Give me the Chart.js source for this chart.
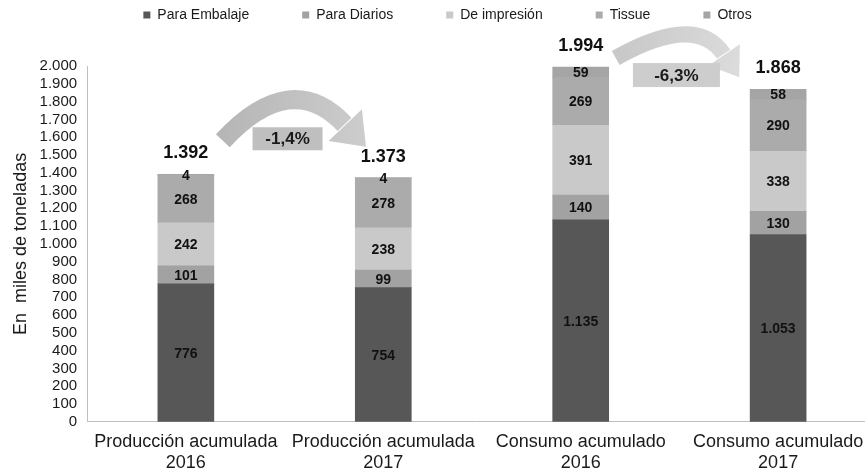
<!DOCTYPE html>
<html>
<head>
<meta charset="utf-8">
<script src="https://cdn.jsdelivr.net/npm/chart.js@4.4.0/dist/chart.umd.min.js"></script>
<style>
  html, body { margin: 0; padding: 0; background: #fff; }
</style>
</head>
<body>
<canvas id="chart" width="865" height="473"></canvas>
<script>
"use strict";

// data (miles de toneladas)
const categories = [
    ['Producción acumulada', '2016'],
    ['Producción acumulada', '2017'],
    ['Consumo acumulado', '2016'],
    ['Consumo acumulado', '2017']
];
const seriesNames = ['Para Embalaje', 'Para Diarios', 'De impresión', 'Tissue', 'Otros'];
const embalaje = [776, 754, 1135, 1053];
const diarios = [101, 99, 140, 130];
const impresion = [242, 238, 391, 338];
const tissue = [268, 278, 269, 290];
const otros = [4, 4, 59, 58];
const totals = [1392, 1373, 1994, 1868];
const yTicks = [0, 100, 200, 300, 400, 500, 600, 700, 800, 900, 1000,
    1100, 1200, 1300, 1400, 1500, 1600, 1700, 1800, 1900, 2000];

const values = [embalaje, diarios, impresion, tissue, otros];
const colors = ['#575757', '#a2a2a2', '#c9c9c9', '#ababab', '#a5a5a5'];
const FONT = '"Liberation Sans", Arial, sans-serif';

function fmt(v) {
    return String(v).replace(/\B(?=(\d{3})+(?!\d))/g, '.');
}

// decorations: curved arrows + change boxes between pairs of bars
const arrows = [
    { from: 0, to: 1, p0: [37, 1580], c: [105, 1990], p2: [-38, 1668], width: 19, head: 30, half: 23, c0: '#b6b6b6', c1: '#cdcdcd' },
    { from: 2, to: 3, p0: [35, 2045], c: [115, 2299], p2: [-54, 2062], width: 16, head: 27, half: 19, c0: '#c8c8c8', c1: '#dcdcdc' }
];
const changeBoxes = [
    { from: 0, to: 1, value: 1591, dx: 3, width: 70, height: 23, fill: '#bfbfbf' },
    { from: 2, to: 3, value: 1949, dx: -3, width: 87, height: 24, fill: '#cdcdcd' }
];

// legend: keep big gaps between items but push the plot down below it
const legendSpacer = {
    id: 'legendSpacer',
    beforeInit(chart) {
        const origFit = chart.legend.fit;
        chart.legend.fit = function fit() {
            origFit.bind(chart.legend)();
            this.height += 34;
        };
    },
    afterLayout(chart) {
        chart.legend.left += 12;
        chart.legend.right += 12;
    }
};

const decorations = {
    id: 'decorations',
    afterDatasetsDraw(chart) {
        const ctx = chart.ctx;
        const xs = chart.scales.x, ys = chart.scales.y;
        ctx.save();

        arrows.forEach(a => {
            const bx0 = xs.getPixelForValue(a.from), bx1 = xs.getPixelForValue(a.to);
            const p0 = [bx0 + a.p0[0], ys.getPixelForValue(a.p0[1])];
            const c = [bx0 + a.c[0], ys.getPixelForValue(a.c[1])];
            const p2 = [bx1 + a.p2[0], ys.getPixelForValue(a.p2[1])];
            let dx = p2[0] - c[0], dy = p2[1] - c[1];
            const len = Math.hypot(dx, dy);
            dx /= len; dy /= len;
            const tip = [p2[0] + dx * a.head, p2[1] + dy * a.head];
            const grad = ctx.createLinearGradient(p0[0], p0[1], tip[0], tip[1]);
            grad.addColorStop(0, a.c0);
            grad.addColorStop(1, a.c1);
            ctx.strokeStyle = grad;
            ctx.fillStyle = grad;
            ctx.lineWidth = a.width;
            ctx.lineCap = 'butt';
            ctx.beginPath();
            ctx.moveTo(p0[0], p0[1]);
            ctx.quadraticCurveTo(c[0], c[1], p2[0] - dx, p2[1] - dy);
            ctx.stroke();
            ctx.beginPath();
            ctx.moveTo(p2[0] - dy * a.half, p2[1] + dx * a.half);
            ctx.lineTo(tip[0], tip[1]);
            ctx.lineTo(p2[0] + dy * a.half, p2[1] - dx * a.half);
            ctx.closePath();
            ctx.fill();
        });

        ctx.textAlign = 'center';
        ctx.textBaseline = 'middle';
        changeBoxes.forEach(b => {
            const cx = (xs.getPixelForValue(b.from) + xs.getPixelForValue(b.to)) / 2 + b.dx;
            const cy = ys.getPixelForValue(b.value);
            ctx.fillStyle = b.fill;
            ctx.fillRect(cx - b.width / 2, cy - b.height / 2, b.width, b.height);
            const pct = ((totals[b.to] / totals[b.from] - 1) * 100).toFixed(1).replace('.', ',') + '%';
            ctx.fillStyle = '#1a1a1a';
            ctx.font = 'bold 17px ' + FONT;
            ctx.fillText(pct, cx, cy + 1);
        });

        // values inside segments
        ctx.fillStyle = '#111';
        ctx.font = 'bold 14px ' + FONT;
        values.forEach((arr, s) => {
            chart.getDatasetMeta(s).data.forEach((bar, i) => {
                ctx.fillText(fmt(arr[i]), bar.x, (bar.y + bar.base) / 2 + 1);
            });
        });

        // totals over the bars
        ctx.font = 'bold 18px ' + FONT;
        chart.getDatasetMeta(values.length - 1).data.forEach((bar, i) => {
            ctx.fillText(fmt(totals[i]), bar.x, bar.y - 21);
        });
        ctx.restore();
    }
};

Chart.defaults.font.family = FONT;
Chart.defaults.color = '#1a1a1a';

var ctx = document.getElementById('chart').getContext('2d');
var myChart = new Chart(ctx, {
    type: 'bar',
    data: {
        datasets: seriesNames.map((name, s) => ({
            label: name,
            data: values[s].map((v, i) => ({ x: i, y: v })),
            backgroundColor: colors[s],
            borderWidth: 0,
            barThickness: 56,
            stack: 'total'
        }))
    },
    options: {
        responsive: false,
        animation: false,
        layout: {
            padding: { top: -45, left: 6, right: 0, bottom: -10 }
        },
        plugins: {
            tooltip: { enabled: false },
            legend: {
                position: 'top',
                labels: {
                    boxWidth: 7,
                    boxHeight: 7,
                    padding: 53,
                    color: '#1a1a1a',
                    font: { size: 14 }
                }
            }
        },
        scales: {
            x: {
                type: 'linear',
                min: -0.5,
                max: 3.44,
                stacked: true,
                offset: false,
                grid: { display: false, drawTicks: false },
                border: { color: '#bfbfbf' },
                afterBuildTicks: (scale) => {
                    scale.ticks = categories.map((c, i) => ({ value: i }));
                },
                afterFit: (scale) => {
                    scale.paddingLeft = 0;
                    scale.paddingRight = 0;
                },
                ticks: {
                    padding: 9,
                    autoSkip: false,
                    maxRotation: 0,
                    font: { size: 18 },
                    callback: (v) => categories[Math.round(v)]
                }
            },
            y: {
                stacked: true,
                min: 0,
                max: 2000,
                grid: { display: false, drawTicks: false },
                border: { color: '#bfbfbf' },
                afterBuildTicks: (scale) => {
                    scale.ticks = yTicks.map(v => ({ value: v }));
                },
                ticks: {
                    padding: 10,
                    autoSkip: false,
                    font: { size: 15, lineHeight: 1 },
                    callback: (v) => fmt(v)
                },
                title: {
                    display: true,
                    text: 'En  miles de toneladas',
                    font: { size: 18 },
                    padding: { top: 4, bottom: -2 }
                }
            }
        }
    },
    plugins: [legendSpacer, decorations]
});
</script>
</body>
</html>
